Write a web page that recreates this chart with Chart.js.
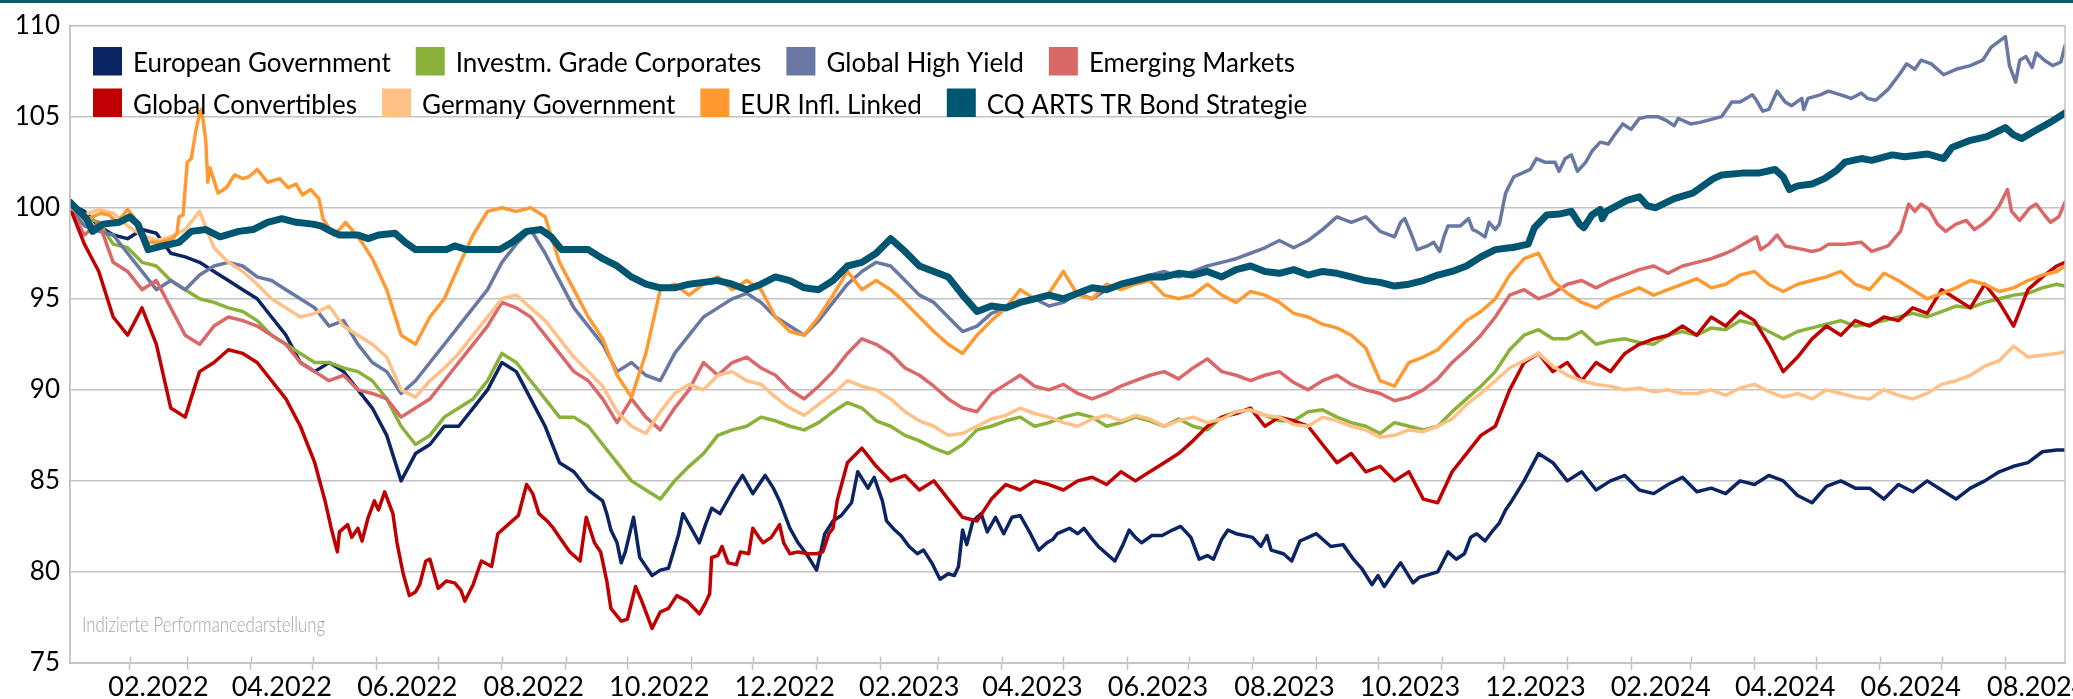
<!DOCTYPE html>
<html>
<head>
<meta charset="utf-8">
<title>Indizierte Performance</title>
<script src="https://cdn.jsdelivr.net/npm/chart.js@4.4.1/dist/chart.umd.min.js"></script>
<style>
  html, body { margin: 0; padding: 0; background: #fff; }
  #wrap { width: 2073px; height: 699px; position: relative; }
</style>
</head>
<body>
<div id="wrap"><canvas id="perfChart" width="2073" height="699"></canvas></div>
<script>
// series names + colours (legend order)
const seriesNames = [
  "European Government", "Investm. Grade Corporates", "Global High Yield", "Emerging Markets",
  "Global Convertibles", "Germany Government", "EUR Infl. Linked", "CQ ARTS TR Bond Strategie"
];
const seriesColors = ["#0b2463", "#8ab13a", "#6878a3", "#da6868", "#c00000", "#ffc187", "#ff9a33", "#005670"];

// x tick labels (shown centred in their month)
const xTickLabels = [
  "02.2022", "04.2022", "06.2022", "08.2022", "10.2022", "12.2022",
  "02.2023", "04.2023", "06.2023", "08.2023", "10.2023", "12.2023",
  "02.2024", "04.2024", "06.2024", "08.2024"
];
const yMin = 75, yMax = 110, yStep = 5;

// weekly readings, 03.01.2022 .. 30.08.2024 (140 values each)
const euroGov = [
  100.2, 99.8, 99.0, 98.5, 98.3, 98.8, 98.6, 97.5, 97.3, 97.0,
  96.5, 96.0, 95.5, 95.0, 94.0, 93.0, 91.5, 91.0, 91.5, 91.0,
  90.0, 89.0, 87.5, 85.0, 86.5, 87.0, 88.0, 88.0, 89.0, 90.0,
  91.5, 91.0, 89.5, 88.0, 86.0, 85.5, 84.5, 83.5, 82.0, 81.5,
  80.5, 80.0, 82.0, 82.5, 82.5, 83.8, 84.8, 85.0, 85.2, 84.0,
  82.4, 81.0, 80.5, 82.5, 84.0, 85.5, 84.5, 83.0, 81.5, 81.0,
  80.5, 79.8, 81.5, 83.0, 82.8, 82.3, 83.0, 81.5, 81.8, 82.3,
  82.4, 81.6, 80.8, 81.3, 81.8, 82.0, 82.1, 82.4, 81.6, 80.8,
  82.0, 82.2, 81.9, 81.8, 81.1, 80.8, 81.7, 82.0, 81.5, 81.3,
  80.2, 79.4, 80.3, 79.5, 79.9, 80.3, 81.0, 81.1, 82.0, 82.7,
  83.9, 85.0, 86.5, 86.0, 85.0, 85.5, 84.5, 85.0, 85.3, 84.5,
  84.3, 84.8, 85.2, 84.4, 84.6, 84.3, 85.0, 84.8, 85.3, 85.0,
  84.2, 83.8, 84.7, 85.0, 84.6, 84.6, 84.0, 84.8, 84.4, 85.0,
  84.5, 84.0, 84.6, 85.0, 85.5, 85.8, 86.0, 86.6, 86.7, 86.7
];
const investGrade = [
  100.0, 99.5, 99.2, 98.0, 97.8, 97.0, 96.8, 96.0, 95.5, 95.0,
  94.8, 94.5, 94.3, 93.8, 93.0, 92.5, 92.0, 91.5, 91.5, 91.2,
  91.0, 90.5, 89.5, 88.0, 87.0, 87.5, 88.5, 89.0, 89.5, 90.5,
  92.0, 91.5, 90.5, 89.5, 88.5, 88.5, 88.0, 87.0, 86.0, 85.0,
  84.5, 84.0, 85.0, 85.8, 86.5, 87.5, 87.8, 88.0, 88.5, 88.3,
  88.0, 87.8, 88.2, 88.8, 89.3, 89.0, 88.3, 88.0, 87.5, 87.2,
  86.8, 86.5, 87.0, 87.8, 88.0, 88.3, 88.5, 88.0, 88.2, 88.5,
  88.7, 88.5, 88.0, 88.2, 88.5, 88.3, 88.0, 88.4, 88.0, 87.8,
  88.5, 88.8, 88.9, 88.6, 88.3, 88.3, 88.8, 88.9, 88.5, 88.2,
  88.0, 87.6, 88.2, 88.0, 87.8, 88.0, 88.8, 89.5, 90.2, 91.0,
  92.2, 93.0, 93.3, 92.8, 92.8, 93.2, 92.5, 92.7, 92.8, 92.6,
  92.5, 93.0, 93.2, 93.0, 93.4, 93.3, 93.8, 93.6, 93.2, 92.8,
  93.2, 93.4, 93.6, 93.8, 93.5, 93.6, 93.8, 94.0, 94.2, 94.0,
  94.3, 94.6, 94.5, 94.8, 95.0, 95.2, 95.3, 95.6, 95.8, 95.7
];
const highYield = [
  100.0, 99.0, 98.7, 98.5, 97.5, 96.5, 95.5, 96.0, 95.5, 96.3,
  96.8, 97.0, 96.8, 96.2, 96.0, 95.5, 95.0, 94.5, 93.5, 93.8,
  92.5, 91.5, 91.0, 89.8, 90.5, 91.5, 92.5, 93.5, 94.5, 95.5,
  97.0, 98.0, 98.8, 97.5, 96.0, 94.5, 93.5, 92.5, 91.0, 91.5,
  90.8, 90.5, 92.0, 93.0, 94.0, 94.5, 95.0, 95.3, 94.8, 94.0,
  93.5, 93.0, 93.8, 94.8, 95.8, 96.5, 97.0, 96.8, 96.0, 95.2,
  94.8, 94.0, 93.2, 93.5, 94.2, 94.5, 94.8, 95.0, 94.6, 94.8,
  95.3, 95.0, 95.5, 95.8, 96.0, 96.3, 96.5, 96.2, 96.5, 96.8,
  97.0, 97.2, 97.5, 97.8, 98.2, 97.8, 98.2, 98.8, 99.5, 99.2,
  99.5, 98.7, 98.4, 98.6, 97.9, 97.8, 99.0, 98.9, 98.6, 99.0,
  101.5, 102.0, 102.6, 102.3, 102.8, 102.6, 103.4, 103.8, 104.5, 104.9,
  105.0, 104.7, 104.8, 104.6, 104.9, 105.5, 105.8, 106.1, 105.3, 106.0,
  105.7, 105.8, 106.3, 106.2, 106.0, 106.0, 106.3, 107.3, 107.7, 108.0,
  107.4, 107.5, 107.8, 108.4, 109.1, 107.2, 108.2, 108.2, 107.9, 108.9
];
const emerging = [
  100.0, 98.5, 99.2, 97.0, 96.5, 95.5, 96.0, 94.5, 93.0, 92.5,
  93.5, 94.0, 93.8, 93.5, 93.0, 92.5, 91.5, 91.0, 90.5, 90.8,
  90.0, 89.8, 89.5, 88.5, 89.0, 89.5, 90.5, 91.5, 92.5, 93.5,
  94.8, 94.5, 94.0, 93.0, 92.0, 91.0, 90.5, 89.5, 88.2, 89.5,
  88.5, 87.8, 89.0, 90.0, 91.5, 90.8, 91.5, 91.8, 91.2, 90.8,
  90.0, 89.5, 90.2, 91.0, 92.0, 92.8, 92.5, 92.0, 91.2, 90.8,
  90.2, 89.5, 89.0, 88.8, 89.8, 90.3, 90.8, 90.2, 90.0, 90.3,
  89.8, 89.5, 89.8, 90.2, 90.5, 90.8, 91.0, 90.6, 91.2, 91.7,
  91.0, 90.8, 90.5, 90.8, 91.0, 90.4, 90.0, 90.5, 90.8, 90.3,
  90.0, 89.8, 89.4, 89.6, 90.0, 90.6, 91.5, 92.2, 93.0, 94.0,
  95.2, 95.5, 95.0, 95.3, 95.8, 96.0, 95.6, 96.0, 96.3, 96.6,
  96.8, 96.4, 96.8, 97.0, 97.2, 97.5, 97.8, 98.3, 97.7, 98.4,
  97.8, 97.7, 97.7, 98.0, 98.0, 98.0, 98.1, 98.4, 100.0, 99.9,
  98.8, 99.0, 99.2, 98.9, 100.0, 99.6, 100.0, 99.6, 99.3, 100.3
];
const convertibles = [
  100.0, 98.0, 96.5, 94.0, 93.0, 94.5, 92.5, 89.0, 88.5, 91.0,
  91.5, 92.2, 92.0, 91.5, 90.5, 89.5, 88.0, 86.0, 82.8, 82.0,
  82.4, 83.6, 84.3, 80.3, 78.9, 80.5, 79.4, 79.0, 79.3, 80.4,
  82.3, 83.0, 84.6, 83.0, 82.0, 81.0, 82.5, 80.0, 77.5, 78.6,
  77.3, 77.8, 78.6, 78.3, 78.5, 81.0, 80.6, 81.2, 81.8, 82.2,
  81.0, 81.0, 81.0, 83.0, 86.0, 86.8, 85.8, 85.0, 85.3, 84.5,
  85.0, 84.0, 83.0, 82.8, 84.0, 84.8, 84.5, 85.0, 84.8, 84.5,
  85.0, 85.2, 84.8, 85.5, 85.0, 85.5, 86.0, 86.5, 87.2, 88.0,
  88.5, 88.7, 89.0, 88.0, 88.5, 88.3, 88.0, 87.0, 86.0, 86.5,
  85.5, 85.8, 85.0, 85.5, 84.0, 83.8, 85.5, 86.5, 87.5, 88.0,
  90.0, 91.5, 92.0, 91.0, 91.5, 90.5, 91.5, 91.0, 92.0, 92.5,
  92.8, 93.0, 93.5, 93.0, 94.0, 93.5, 94.3, 93.8, 92.5, 91.0,
  91.8, 92.8, 93.5, 93.0, 93.8, 93.5, 94.0, 93.8, 94.5, 94.2,
  95.5, 95.0, 94.5, 95.8, 94.8, 93.5, 95.5, 96.2, 96.8, 97.0
];
const germanyGov = [
  100.0, 99.6, 99.9, 99.7, 99.0, 98.5, 98.2, 98.4, 98.8, 99.8,
  97.8, 97.0, 96.5, 95.8, 95.0, 94.5, 94.0, 94.2, 94.6, 93.5,
  93.0, 92.5, 91.8, 90.0, 89.6, 90.5, 91.2, 92.0, 93.0, 94.0,
  95.0, 95.2, 94.5, 93.8, 92.8, 91.8, 91.0, 90.2, 88.8, 88.0,
  87.6, 88.8, 89.8, 90.3, 90.0, 90.8, 91.0, 90.5, 90.3, 89.6,
  89.0, 88.6, 89.2, 89.8, 90.5, 90.2, 90.0, 89.5, 88.8, 88.3,
  88.0, 87.5, 87.6, 88.0, 88.4, 88.6, 89.0, 88.7, 88.5, 88.2,
  88.0, 88.4, 88.6, 88.3, 88.6, 88.4, 88.0, 88.3, 88.5, 88.2,
  88.4, 88.8, 88.9, 88.6, 88.5, 88.1, 88.0, 88.5, 88.3, 88.0,
  87.8, 87.4, 87.5, 87.8, 87.7, 88.0, 88.4, 89.2, 89.8, 90.5,
  91.2, 91.6, 92.0, 91.3, 90.8, 90.5, 90.3, 90.2, 90.0, 90.1,
  89.9, 90.0, 89.8, 89.8, 90.0, 89.7, 90.1, 90.3, 89.9, 89.6,
  89.8, 89.5, 90.0, 89.8, 89.6, 89.5, 90.0, 89.7, 89.5, 89.8,
  90.3, 90.5, 90.8, 91.3, 91.6, 92.4, 91.8, 91.9, 92.0, 92.1
];
const inflLinked = [
  100.0, 99.3, 99.7, 99.3, 99.8, 98.3, 98.1, 98.2, 99.5, 105.2,
  101.0, 101.4, 101.7, 101.9, 101.4, 101.4, 101.0, 100.6, 98.6, 99.0,
  98.3, 97.2, 95.5, 93.0, 92.5, 94.0, 95.0, 96.8, 98.5, 99.8,
  100.0, 99.8, 100.0, 99.5, 97.0, 95.5, 94.0, 92.8, 90.8, 89.6,
  92.0, 95.5, 95.8, 95.2, 95.8, 96.2, 95.5, 96.0, 95.5, 94.0,
  93.2, 93.0, 94.0, 95.2, 96.5, 95.5, 96.0, 95.5, 94.8, 94.0,
  93.2, 92.5, 92.0, 93.0, 93.8, 94.5, 95.5, 95.0, 95.3, 96.5,
  95.2, 95.0, 95.8, 95.5, 95.8, 96.0, 95.2, 95.0, 95.2, 95.8,
  95.2, 94.8, 95.4, 95.2, 94.8, 94.2, 94.0, 93.6, 93.4, 93.0,
  92.3, 90.5, 90.2, 91.5, 91.8, 92.2, 93.0, 93.8, 94.3, 95.0,
  96.3, 97.2, 97.5, 96.0, 95.3, 94.8, 94.5, 95.0, 95.3, 95.6,
  95.2, 95.5, 95.8, 96.1, 95.6, 95.8, 96.3, 96.5, 95.8, 95.4,
  95.8, 96.0, 96.2, 96.5, 95.8, 95.5, 96.4, 96.0, 95.5, 95.0,
  95.3, 95.6, 96.0, 95.8, 95.4, 95.6, 96.0, 96.3, 96.5, 96.8
];
const cqArts = [
  100.3, 99.4, 99.0, 99.2, 99.5, 98.5, 97.8, 97.9, 98.5, 98.8,
  98.5, 98.6, 98.7, 98.8, 99.3, 99.4, 99.2, 99.1, 98.9, 98.5,
  98.5, 98.4, 98.5, 98.2, 97.8, 97.7, 97.8, 97.7, 97.7, 97.7,
  97.6, 98.2, 98.8, 98.6, 97.8, 97.7, 97.7, 97.2, 96.8, 96.2,
  95.8, 95.6, 95.6, 95.8, 95.9, 96.0, 95.8, 95.5, 95.8, 96.2,
  96.0, 95.6, 95.5, 96.0, 96.8, 97.0, 97.5, 98.3, 97.6, 96.8,
  96.5, 96.2, 95.2, 94.3, 94.6, 94.5, 94.8, 95.0, 95.2, 95.0,
  95.3, 95.6, 95.5, 95.8, 96.0, 96.2, 96.2, 96.4, 96.3, 96.5,
  96.2, 96.6, 96.8, 96.5, 96.4, 96.6, 96.3, 96.5, 96.4, 96.2,
  96.0, 95.9, 95.7, 95.8, 96.0, 96.3, 96.5, 96.8, 97.3, 97.7,
  97.8, 98.9, 99.6, 99.7, 99.8, 99.0, 99.6, 99.8, 99.9, 100.4,
  100.6, 100.1, 100.1, 100.5, 100.8, 101.3, 101.6, 101.8, 101.9, 102.0,
  101.0, 101.2, 101.4, 102.0, 102.5, 102.7, 102.6, 102.9, 102.8, 102.9,
  102.7, 103.2, 103.6, 103.8, 104.0, 104.4, 103.8, 104.1, 104.7, 105.2
];

// closer readings [day, value] for stretches read at higher zoom;
// they replace the weekly values inside their own day range
const euroGovFine = [
  [259, 83.9], [261, 83.2], [263, 82.3], [266, 81.6], [268, 80.5], [270, 81.1], [274, 83.0], [277, 80.8],
  [283, 79.8], [287, 80.1], [291, 80.2], [296, 82.1], [298, 83.2], [302, 82.4], [306, 81.6], [309, 82.6],
  [312, 83.5], [316, 83.2], [319, 83.8], [323, 84.6], [327, 85.3], [332, 84.3], [335, 84.8], [338, 85.3],
  [342, 84.6], [345, 83.9], [350, 82.4], [354, 81.6], [358, 81.0], [363, 80.1], [367, 82.1], [371, 82.8],
  [375, 83.1], [380, 83.8], [383, 85.5], [388, 84.6], [391, 85.2], [395, 83.9], [397, 82.8], [401, 82.3],
  [404, 82.0], [408, 81.4], [412, 81.0], [415, 81.2], [419, 80.5], [423, 79.6], [427, 79.9], [430, 79.8],
  [432, 80.3], [434, 82.3], [436, 81.5], [439, 82.8], [443, 83.2], [446, 82.2], [450, 83.0], [454, 82.1],
  [458, 83.0], [462, 83.1], [467, 82.1], [471, 81.2], [475, 81.6], [478, 81.8], [480, 82.1], [486, 82.4],
  [490, 82.1], [493, 82.4], [497, 81.8], [500, 81.4], [504, 81.0], [508, 80.6], [512, 81.5], [515, 82.3],
  [518, 81.9], [521, 81.6], [526, 82.0], [531, 82.0], [536, 82.3], [540, 82.5], [545, 81.9], [549, 80.7],
  [553, 80.9], [556, 80.7], [560, 81.8], [563, 82.3], [567, 82.1], [571, 82.0], [575, 81.9], [579, 81.4],
  [582, 82.0], [584, 81.2], [590, 81.0], [594, 80.6], [598, 81.7], [602, 81.9], [606, 82.1], [610, 81.7],
  [613, 81.4], [619, 81.5], [624, 80.7], [628, 80.2], [633, 79.3], [636, 79.8], [639, 79.2], [645, 80.2],
  [647, 80.5], [653, 79.4], [656, 79.7], [659, 79.8], [665, 80.0], [670, 81.1], [674, 80.7], [678, 81.0],
  [681, 81.9], [684, 82.1], [688, 81.7], [692, 82.3], [695, 82.7], [698, 83.4], [701, 83.9]
];
const convertiblesFine = [
  [124, 83.9], [127, 82.4], [130, 81.1], [131, 82.2], [135, 82.6], [137, 81.9], [140, 82.4], [142, 81.7],
  [145, 83.0], [148, 83.9], [150, 83.4], [153, 84.4], [157, 83.2], [159, 81.6], [162, 79.9], [165, 78.7],
  [168, 78.9], [170, 79.3], [173, 80.6], [175, 80.7], [179, 79.1], [183, 79.5], [187, 79.4], [190, 79.0],
  [192, 78.4], [196, 79.3], [200, 80.6], [205, 80.3], [208, 82.1], [213, 82.6], [218, 83.1], [222, 84.8],
  [225, 84.3], [228, 83.2], [232, 82.8], [235, 82.4], [238, 81.9], [243, 81.1], [248, 80.6], [251, 83.0],
  [255, 81.6], [258, 81.1], [261, 79.5], [263, 78.0], [268, 77.3], [271, 77.4], [275, 79.2], [278, 78.4],
  [283, 76.9], [287, 77.8], [291, 78.0], [295, 78.7], [300, 78.4], [306, 77.7], [309, 78.3], [311, 78.8],
  [312, 80.8], [315, 80.9], [317, 81.4], [320, 80.5], [324, 80.4], [326, 81.1], [330, 81.0], [332, 82.4],
  [335, 81.9], [337, 81.6], [341, 81.9], [345, 82.6], [347, 81.6], [350, 81.0], [354, 81.1], [359, 81.0],
  [363, 81.0], [366, 81.1], [369, 82.1], [371, 82.4], [373, 83.9]
];
const highYieldFine = [
  [647, 99.2], [649, 99.4], [652, 98.6], [655, 97.7], [660, 97.9], [663, 98.1], [666, 97.6], [668, 98.4],
  [670, 99.0], [676, 99.0], [680, 99.4], [682, 98.8], [684, 98.7], [688, 98.4], [690, 99.2], [693, 98.8],
  [695, 99.1], [698, 100.8], [702, 101.7], [706, 101.9], [710, 102.1], [713, 102.7], [717, 102.5], [722, 102.5],
  [724, 102.0], [727, 102.7], [730, 102.9], [733, 102.0], [737, 102.5], [740, 103.1], [744, 103.6], [748, 103.5],
  [751, 104.0], [755, 104.6], [759, 104.3], [763, 104.9], [767, 105.0], [772, 105.0], [776, 104.8], [780, 104.5],
  [782, 104.9], [788, 104.6], [793, 104.7], [803, 105.0], [808, 105.8], [812, 105.8], [818, 106.2], [820, 105.9],
  [823, 105.3], [826, 105.4], [830, 106.4], [834, 105.8], [837, 105.6], [842, 106.0], [843, 105.4], [845, 106.0],
  [851, 106.2], [855, 106.4], [861, 106.2], [866, 106.0], [871, 106.3], [874, 106.0], [878, 105.9], [884, 106.5],
  [890, 107.4], [893, 107.9], [897, 107.6], [900, 108.1], [905, 107.9], [911, 107.3], [917, 107.6], [924, 107.8],
  [930, 108.1], [934, 108.8], [941, 109.4], [943, 107.8], [946, 106.9], [948, 108.1], [951, 108.3], [954, 107.7],
  [956, 108.5], [960, 108.1], [964, 107.8], [968, 108.0], [970, 108.9]
];
const emergingFine = [
  [809, 97.7], [812, 97.9], [820, 98.4], [822, 97.7], [826, 98.0], [830, 98.5], [834, 97.9], [843, 97.7],
  [847, 97.6], [851, 97.7], [855, 98.0], [863, 98.0], [871, 98.1], [876, 97.6], [884, 97.9], [890, 98.7],
  [894, 100.2], [897, 99.8], [900, 100.2], [904, 99.9], [908, 99.1], [912, 98.7], [917, 99.1], [922, 99.3],
  [926, 98.8], [930, 99.1], [934, 99.5], [938, 100.1], [942, 101.0], [944, 99.8], [948, 99.3], [953, 100.0],
  [956, 100.2], [960, 99.6], [963, 99.2], [967, 99.5], [970, 100.3]
];
const inflLinkedFine = [
  [0, 100.0], [3, 99.9], [7, 99.3], [15, 99.7], [19, 99.6], [23, 99.2], [28, 99.9], [31, 99.5],
  [34, 98.5], [38, 98.1], [44, 98.1], [47, 98.2], [50, 98.3], [52, 98.6], [53, 99.5], [55, 99.6],
  [57, 102.5], [59, 102.7], [61, 104.1], [63, 105.2], [64, 105.4], [66, 103.7], [67, 101.4], [68, 102.2],
  [72, 100.8], [76, 101.1], [80, 101.8], [84, 101.6], [87, 101.7], [91, 102.1], [96, 101.4], [102, 101.6],
  [106, 101.1], [110, 101.3], [113, 100.7], [117, 101.0], [121, 100.5], [123, 99.4], [128, 98.5], [131, 98.8],
  [134, 99.2], [137, 98.8], [142, 98.1]
];
const cqArtsFineEarly = [
  [0, 100.3], [8, 99.4], [11, 98.7], [16, 99.1], [24, 99.2], [29, 99.5], [33, 99.1], [38, 97.7],
  [45, 97.9], [53, 98.1], [59, 98.7], [66, 98.8], [73, 98.4], [82, 98.7], [89, 98.8], [96, 99.2],
  [103, 99.4], [110, 99.2], [118, 99.1], [122, 99.0], [127, 98.7], [131, 98.5], [140, 98.5], [145, 98.3],
  [150, 98.5], [158, 98.6], [163, 98.1], [168, 97.7], [172, 97.7], [183, 97.7], [187, 97.9], [193, 97.7],
  [200, 97.7], [209, 97.7], [215, 98.1], [222, 98.7], [229, 98.8], [234, 98.4], [239, 97.7]
];
const cqArtsFineLate = [
  [701, 97.8], [709, 98.0], [712, 98.9], [718, 99.6], [724, 99.65], [730, 99.8], [734, 99.1], [736, 98.9],
  [740, 99.6], [744, 99.9], [745, 99.4], [747, 99.8], [757, 100.4], [763, 100.6], [767, 100.1], [771, 100.0],
  [780, 100.5], [789, 100.8], [799, 101.6], [803, 101.8], [813, 101.9], [821, 101.9], [829, 102.1], [833, 101.7],
  [836, 101.0], [840, 101.2], [847, 101.3], [853, 101.6], [859, 102.05], [863, 102.5], [871, 102.7], [876, 102.6],
  [886, 102.9], [892, 102.8], [903, 102.95], [911, 102.7], [915, 103.3], [924, 103.7], [932, 103.9], [941, 104.4],
  [945, 104.0], [949, 103.8], [955, 104.2], [963, 104.7], [970, 105.2]
];

const seriesValues = [euroGov, investGrade, highYield, emerging, convertibles, germanyGov, inflLinked, cqArts];
const seriesFine = [
  [euroGovFine], [], [highYieldFine], [emergingFine],
  [convertiblesFine], [], [inflLinkedFine], [cqArtsFineEarly, cqArtsFineLate]
];

// day offsets of the weekly readings (first reading 03.01.2022, last 30.08.2024)
const lastDay = 970;
const obsDays = [];
for (let d = 0; d < lastDay; d += 7) obsDays.push(d);
obsDays.push(lastDay);

function buildPoints(weekly, fineLists) {
  const ranges = fineLists.map(f => [f[0][0], f[f.length - 1][0]]);
  const pts = [];
  obsDays.forEach((d, k) => {
    if (!ranges.some(([a, b]) => d >= a && d <= b)) pts.push({ x: d, y: weekly[k] });
  });
  fineLists.forEach(f => f.forEach(([d, v]) => pts.push({ x: d, y: v })));
  return pts.sort((a, b) => a.x - b.x);
}

function dayOf(y, m, d) {
  return Math.round((Date.UTC(y, m, d) - Date.UTC(2022, 0, 3)) / 86400000);
}

// tick marks on every month start, labels in the middle of every second month
const monthStarts = [];
for (let y = 2022, m = 1; dayOf(y, m, 1) <= lastDay; m++) {
  if (m > 11) { m = 0; y++; }
  monthStarts.push(dayOf(y, m, 1));
}
const labelAt = new Map();
xTickLabels.forEach(lbl => {
  const m = parseInt(lbl.slice(0, 2), 10) - 1;
  const y = parseInt(lbl.slice(3), 10);
  labelAt.set((dayOf(y, m, 1) + dayOf(y, m + 1, 1)) / 2, lbl);
});
const monthStartSet = new Set(monthStarts);

const axisGrey = "#c3c3c3";

// box + inner half of the x tick marks + top rule
const framePlugin = {
  id: "frame",
  beforeDraw(chart) {
    const ctx = chart.ctx;
    ctx.save();
    ctx.fillStyle = "#0f5a72";
    ctx.fillRect(0, 0, chart.width, 3);
    ctx.restore();
  },
  afterDraw(chart) {
    const { ctx, chartArea } = chart;
    const xs = chart.scales.x;
    ctx.save();
    ctx.strokeStyle = axisGrey;
    ctx.lineWidth = 1.5;
    ctx.strokeRect(chartArea.left, chartArea.top, chartArea.right - chartArea.left, chartArea.bottom - chartArea.top);
    ctx.beginPath();
    monthStarts.forEach(d => {
      const px = Math.round(xs.getPixelForValue(d)) + 0.5;
      ctx.moveTo(px, chartArea.bottom - 6.5);
      ctx.lineTo(px, chartArea.bottom);
    });
    ctx.stroke();
    ctx.restore();
  }
};

// legend drawn inside the plot, two rows
const legendPlugin = {
  id: "insideLegend",
  afterDatasetsDraw(chart) {
    const ctx = chart.ctx;
    const rows = [[0, 1, 2, 3], [4, 5, 6, 7]];
    ctx.save();
    ctx.font = "26px Lato";
    ctx.textBaseline = "alphabetic";
    rows.forEach((row, r) => {
      let x = 93;
      const top = 47 + r * 41.5;
      row.forEach(i => {
        ctx.fillStyle = seriesColors[i];
        ctx.fillRect(x, top, 29, 28.5);
        ctx.fillStyle = "#000";
        ctx.fillText(seriesNames[i], x + 40, top + 25);
        x += 40 + ctx.measureText(seriesNames[i]).width + 25;
      });
    });
    // small note, squeezed to the width it has in the original
    const note = "Indizierte Performancedarstellung";
    ctx.font = "300 21px Lato";
    ctx.fillStyle = "#a3a3a3";
    const w = ctx.measureText(note).width;
    ctx.translate(82, 632);
    ctx.scale(243 / w, 1);
    ctx.fillText(note, 0, 0);
    ctx.restore();
  }
};

const datasets = seriesNames.map((name, i) => ({
  label: name,
  data: buildPoints(seriesValues[i], seriesFine[i]),
  borderColor: seriesColors[i],
  backgroundColor: seriesColors[i],
  borderWidth: i === 7 ? 7 : 3.5,
  pointRadius: 0,
  tension: 0,
  borderJoinStyle: "round",
  borderCapStyle: "round",
  order: 7 - i
}));

Chart.defaults.font.family = "Lato";

const perfChart = new Chart(document.getElementById("perfChart"), {
  type: "line",
  data: { datasets: datasets },
  plugins: [framePlugin, legendPlugin],
  options: {
    responsive: false,
    animation: false,
    devicePixelRatio: 1,
    layout: { padding: { top: 23, right: 8, bottom: 0, left: 0 } },
    plugins: { legend: { display: false }, tooltip: { enabled: false } },
    scales: {
      x: {
        type: "linear",
        min: 0,
        max: lastDay,
        afterBuildTicks: axis => {
          const all = monthStarts.concat(Array.from(labelAt.keys()));
          axis.ticks = all.sort((a, b) => a - b).map(v => ({ value: v }));
        },
        afterFit: scale => {
          scale.height = 36;
          scale.paddingLeft = 0;
          scale.paddingRight = 0;
        },
        ticks: {
          autoSkip: false,
          maxRotation: 0,
          padding: 1,
          color: "#000",
          font: { size: 27 },
          callback: value => labelAt.get(value) || ""
        },
        grid: {
          drawOnChartArea: false,
          drawTicks: true,
          tickLength: 7,
          tickWidth: 1.5,
          tickColor: c => (c.tick && monthStartSet.has(c.tick.value)) ? axisGrey : "rgba(0,0,0,0)"
        },
        border: { display: true, color: axisGrey, width: 1.5 }
      },
      y: {
        min: yMin,
        max: yMax,
        afterFit: scale => { scale.width = 70; },
        ticks: { stepSize: yStep, padding: 10, color: "#000", font: { size: 26 } },
        grid: { color: axisGrey, lineWidth: 1.5, drawTicks: false },
        border: { display: true, color: axisGrey, width: 1.5 }
      }
    }
  }
});
</script>
</body>
</html>
